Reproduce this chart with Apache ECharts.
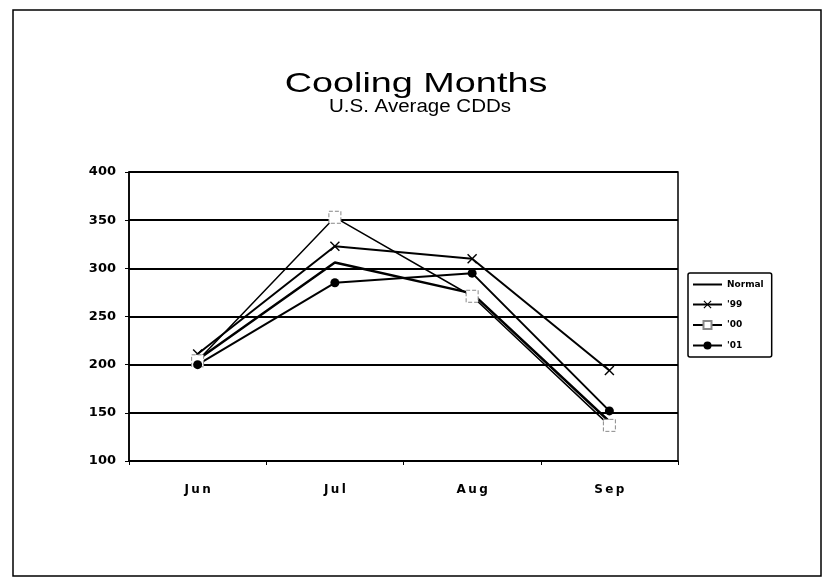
<!DOCTYPE html>
<html>
<head>
	<meta charset="utf-8">
	<title>Cooling Months</title>
	<script type="text/javascript" src="https://cdn.jsdelivr.net/npm/echarts@6/dist/echarts.min.js"></script>
	<style>
		html, body { margin: 0; padding: 0; background: #fff; }
	</style>
</head>
<body>
	<div id="main" style="width: 823px;height: 581px"></div>
	<script type="text/javascript">
	// data
	const months = ['Jun', 'Jul', 'Aug', 'Sep'];
	const normal = [205, 306, 274, 141];
	const y99 = [211, 323, 310, 194];
	const y00 = [204, 353, 271, 137];
	const y01 = [200, 285, 295, 152];
	const yTicks = [100, 150, 200, 250, 300, 350, 400];

	const crossPath = 'path://M0,1L1,0L5,4L9,0L10,1L6,5L10,9L9,10L5,6L1,10L0,9L4,5Z';

	const chart = echarts.init(document.getElementById('main'));

	// spread the letters a little, the scan's labels are wide
	function spaced(v) {
		return String(v).split('').join('\u2009');
	}

	const lineStyle = { color: '#000', width: 2 };
	const option = {
		backgroundColor: '#fff',
		animation: false,
		textStyle: { fontFamily: 'Liberation Sans' },
		// title is drawn as graphic text so it can be stretched like the scan
		graphic: [
			{
				type: 'rect',
				shape: { x: 13, y: 10, width: 808, height: 566 },
				style: { fill: 'none', stroke: '#000', lineWidth: 1.5 },
				silent: true
			},
			{
				type: 'text',
				x: 416,
				y: 84,
				scaleX: 1.35,
				style: {
					text: 'Cooling Months',
					font: '28px "Liberation Sans"',
					fill: '#000',
					textAlign: 'center',
					textVerticalAlign: 'middle'
				}
			},
			{
				type: 'text',
				x: 420,
				y: 107,
				scaleX: 1.14,
				style: {
					text: 'U.S. Average CDDs',
					font: '18px "Liberation Sans"',
					fill: '#000',
					textAlign: 'center',
					textVerticalAlign: 'middle'
				}
			}
		],
		legend: {
			orient: 'vertical',
			left: 688,
			top: 273,
			itemWidth: 29,
			itemHeight: 10,
			itemGap: 11,
			padding: [7, 8, 7, 4],
			borderColor: '#000',
			borderWidth: 1.5,
			borderRadius: 2,
			textStyle: { fontSize: 9, fontWeight: 'bold', color: '#000', fontFamily: 'DejaVu Sans' },
			data: ['Normal', "'99", "'00", "'01"]
		},
		grid: {
			left: 129,
			right: 145,
			top: 172,
			bottom: 120,
			show: true,
			borderColor: '#000',
			borderWidth: 1.5
		},
		xAxis: {
			type: 'category',
			data: months,
			boundaryGap: true,
			axisLine: { lineStyle: { color: '#000', width: 1.5 } },
			axisTick: { show: true, inside: false, length: 4, lineStyle: { color: '#000' } },
			axisLabel: {
				color: '#000', fontSize: 12, fontWeight: 'bold', margin: 23, fontFamily: 'DejaVu Sans',
				formatter: spaced
			}
		},
		yAxis: {
			type: 'value',
			min: yTicks[0],
			max: yTicks[yTicks.length - 1],
			interval: 50,
			axisLine: { show: true, lineStyle: { color: '#000', width: 1.5 } },
			axisTick: { show: true, length: 4, lineStyle: { color: '#000' } },
			axisLabel: { color: '#000', fontSize: 13, fontWeight: 'bold', margin: 13, fontFamily: 'DejaVu Sans' },
			splitLine: { lineStyle: { color: '#000', width: 2 } }
		},
		series: [
			{
				name: 'Normal',
				type: 'line',
				data: normal,
				symbol: 'circle',
				showSymbol: false,
				lineStyle: { color: '#000', width: 2.5 },
				itemStyle: { color: 'rgba(0,0,0,0)' }
			},
			{
				name: "'99",
				type: 'line',
				data: y99,
				symbol: crossPath,
				symbolSize: 10,
				lineStyle: lineStyle,
				itemStyle: { color: '#000' }
			},
			{
				name: "'00",
				type: 'line',
				data: y00,
				symbol: 'rect',
				symbolSize: 12,
				lineStyle: { color: '#000', width: 1.5 },
				itemStyle: { color: '#fff', borderColor: '#888', borderWidth: 1, borderType: 'dashed' }
			},
			{
				name: "'01",
				type: 'line',
				data: y01,
				symbol: 'circle',
				symbolSize: 9,
				lineStyle: lineStyle,
				itemStyle: { color: '#000' }
			}
		]
	};

	chart.setOption(option);
	</script>
</body>
</html>
